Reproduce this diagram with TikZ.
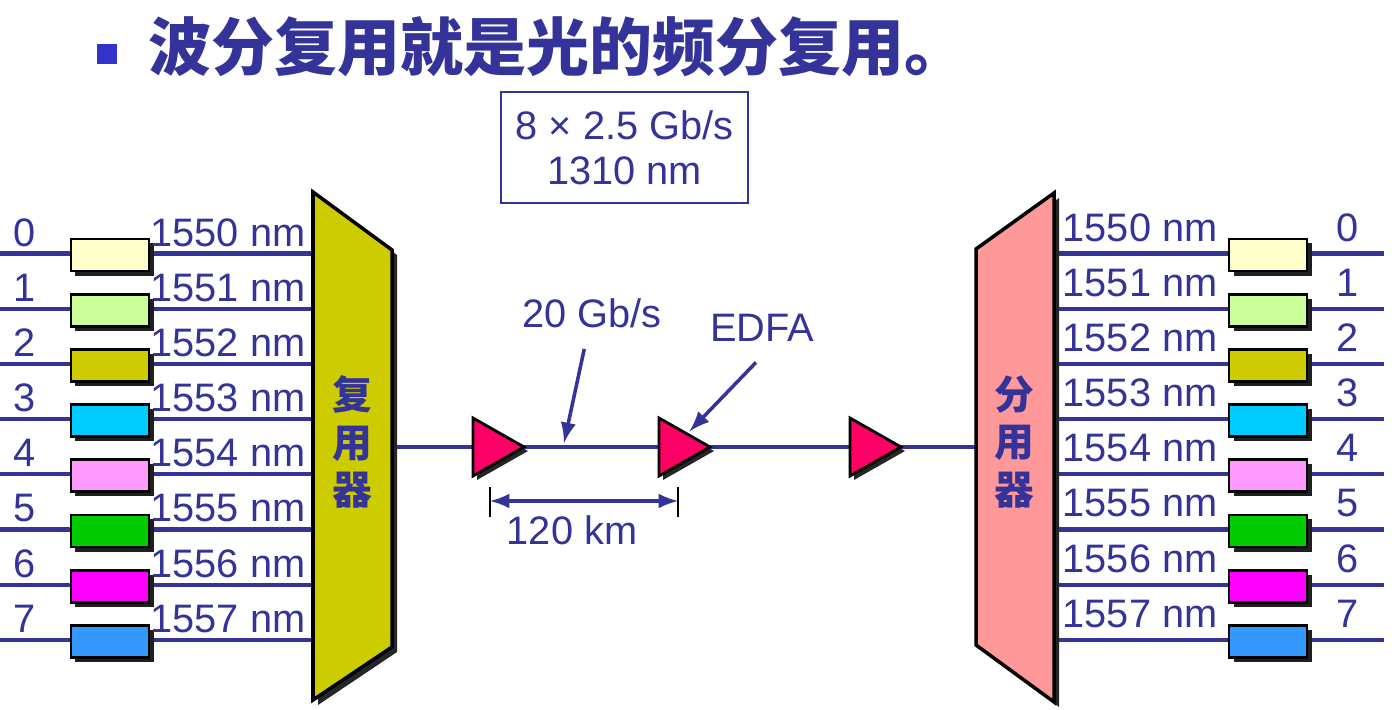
\documentclass[tikz,border=0pt]{standalone}
\usepackage{fontspec}
\setmainfont{Liberation Sans}
\newfontfamily\cjkfont{Noto Sans CJK SC}
\usetikzlibrary{shadows, calc}

\definecolor{ink}{RGB}{51,51,153}
\definecolor{bulletblue}{RGB}{51,51,204}
\definecolor{muxfill}{RGB}{204,204,0}
\definecolor{demuxfill}{RGB}{255,153,153}
\definecolor{ampfill}{RGB}{255,0,102}
\definecolor{ch0}{RGB}{255,255,204}
\definecolor{ch1}{RGB}{204,255,153}
\definecolor{ch2}{RGB}{204,204,0}
\definecolor{ch3}{RGB}{0,204,255}
\definecolor{ch4}{RGB}{255,153,255}
\definecolor{ch5}{RGB}{0,204,0}
\definecolor{ch6}{RGB}{255,0,255}
\definecolor{ch7}{RGB}{51,153,255}

\tikzset{
	fibre/.style = {ink, line width = 1.2pt},
	lbl/.style = {ink, inner sep = 0, font = \fontsize{11.3}{13}\selectfont},
	chanbox/.style = {draw = black, line width = 0.8pt, inner sep = 0,
		minimum width = 0.78cm, minimum height = 0.32cm,
		drop shadow = {opacity = 1, fill = black!88, shadow xshift = 0.045cm, shadow yshift = -0.045cm}},
	cjklbl/.style = {ink, inner sep = 0, align = center,
		font = \cjkfont\bfseries\fontsize{11.3}{13.6}\selectfont}
}

\begin{document}
\begin{tikzpicture}[> = latex, x = 0.01cm, y = -0.01cm]

	\useasboundingbox (0, 0) rectangle (1392, 710);

	% Title
	
	\node [fill = bulletblue, minimum size = 0.2cm, inner sep = 0] (bullet) at (107, 54) {};
	\node [anchor = west, ink, inner sep = 0, font = \cjkfont\bfseries\fontsize{17.9}{20}\selectfont] (title) at (148, 47) {波分复用就是光的频分复用。};
	
	% Aggregate rate
	
	\node [draw = ink, line width = 0.6pt, minimum width = 2.47cm, minimum height = 1.11cm, align = center, lbl, font = \fontsize{11.3}{12.8}\selectfont] (aggregate) at (624.5, 147.5) {8 × 2.5 Gb/s\\1310 nm};

	% Transmitters and receivers
	
	\foreach \i/\col in {0/ch0, 1/ch1, 2/ch2, 3/ch3, 4/ch4, 5/ch5, 6/ch6, 7/ch7} {
		\pgfmathsetmacro{\y}{253.5 + 55.2 * \i}
		\coordinate (src\i) at (0, \y);
		\coordinate (mux\i) at (313, \y);
		\coordinate (demux\i) at (1054, \y);
		\coordinate (dst\i) at (1384, \y);
		\draw [fibre] (src\i) -- (mux\i);
		\draw [fibre] (demux\i) -- (dst\i);
		\node [chanbox, fill = \col] (tx\i) at (110, \y + 1.5) {};
		\node [chanbox, fill = \col] (rx\i) at (1268, \y + 1.5) {};
		\node [lbl] (txnum\i) at (25, \y - 21) {\i};
		\node [lbl, anchor = west] (txwl\i) at (150, \y - 21) {155\i\ nm};
		\node [lbl, anchor = west] (rxwl\i) at (1062, \y - 26) {155\i\ nm};
		\node [lbl] (rxnum\i) at (1348, \y - 26) {\i};
	}

	% Multiplexer, demultiplexer and fibre
	
	\coordinate (mux out) at (392, 447);
	\coordinate (demux in) at (976, 447);
	\draw [fibre] (mux out) -- (demux in);
	
	\fill [black!85] (318, 197) -- (397, 255) -- (397, 652) -- (318, 705) -- cycle;
	\draw [fill = muxfill, line width = 1pt] (313, 192) -- (392, 250) -- (392, 647) -- (313, 700) -- cycle;
	\node [cjklbl] (muxname) at (352, 442) {复\\用\\器};
	
	\fill [black!85] (981, 254) -- (1059, 198) -- (1059, 707) -- (981, 650) -- cycle;
	\draw [fill = demuxfill, line width = 1pt] (976, 249) -- (1054, 193) -- (1054, 702) -- (976, 645) -- cycle;
	\node [cjklbl] (demuxname) at (1014, 442) {分\\用\\器};
	
	% Amplifiers
	
	\foreach \n/\x in {1/473, 2/659, 3/850} {
		\fill [black!85] (\x + 4, 422) -- (\x + 55, 451) -- (\x + 4, 480) -- cycle;
		\draw [fill = ampfill, line width = 0.8pt] (\x, 418) coordinate (amp\n-top) -- (\x + 51, 447) coordinate (amp\n-tip) -- (\x, 476) coordinate (amp\n-bottom) -- cycle;
	}
	
	% Annotations
	
	\node [lbl] (rate) at (592, 313) {20 Gb/s};
	\coordinate (tap) at (564, 443);
	\draw [->, ink, line width = 1pt, shorten <= 6pt] (rate) -- (tap);
	
	\node [lbl] (edfa) at (762, 328) {EDFA};
	\draw [->, ink, line width = 1pt, shorten >= 1pt] ($(edfa.south) + (-6, 20)$) -- ($(amp2-top)!0.55!(amp2-tip)$);
	
	\coordinate (span left) at (490, 501);
	\coordinate (span right) at (678, 501);
	\draw [black, line width = 0.5pt] (span left) ++(0, -14) -- ++(0, 30);
	\draw [black, line width = 0.5pt] (span right) ++(0, -14) -- ++(0, 30);
	\draw [<->, ink, line width = 0.9pt] (span left) -- (span right);
	\node [lbl] (span) at (572, 530) {120 km};

\end{tikzpicture}
\end{document}
